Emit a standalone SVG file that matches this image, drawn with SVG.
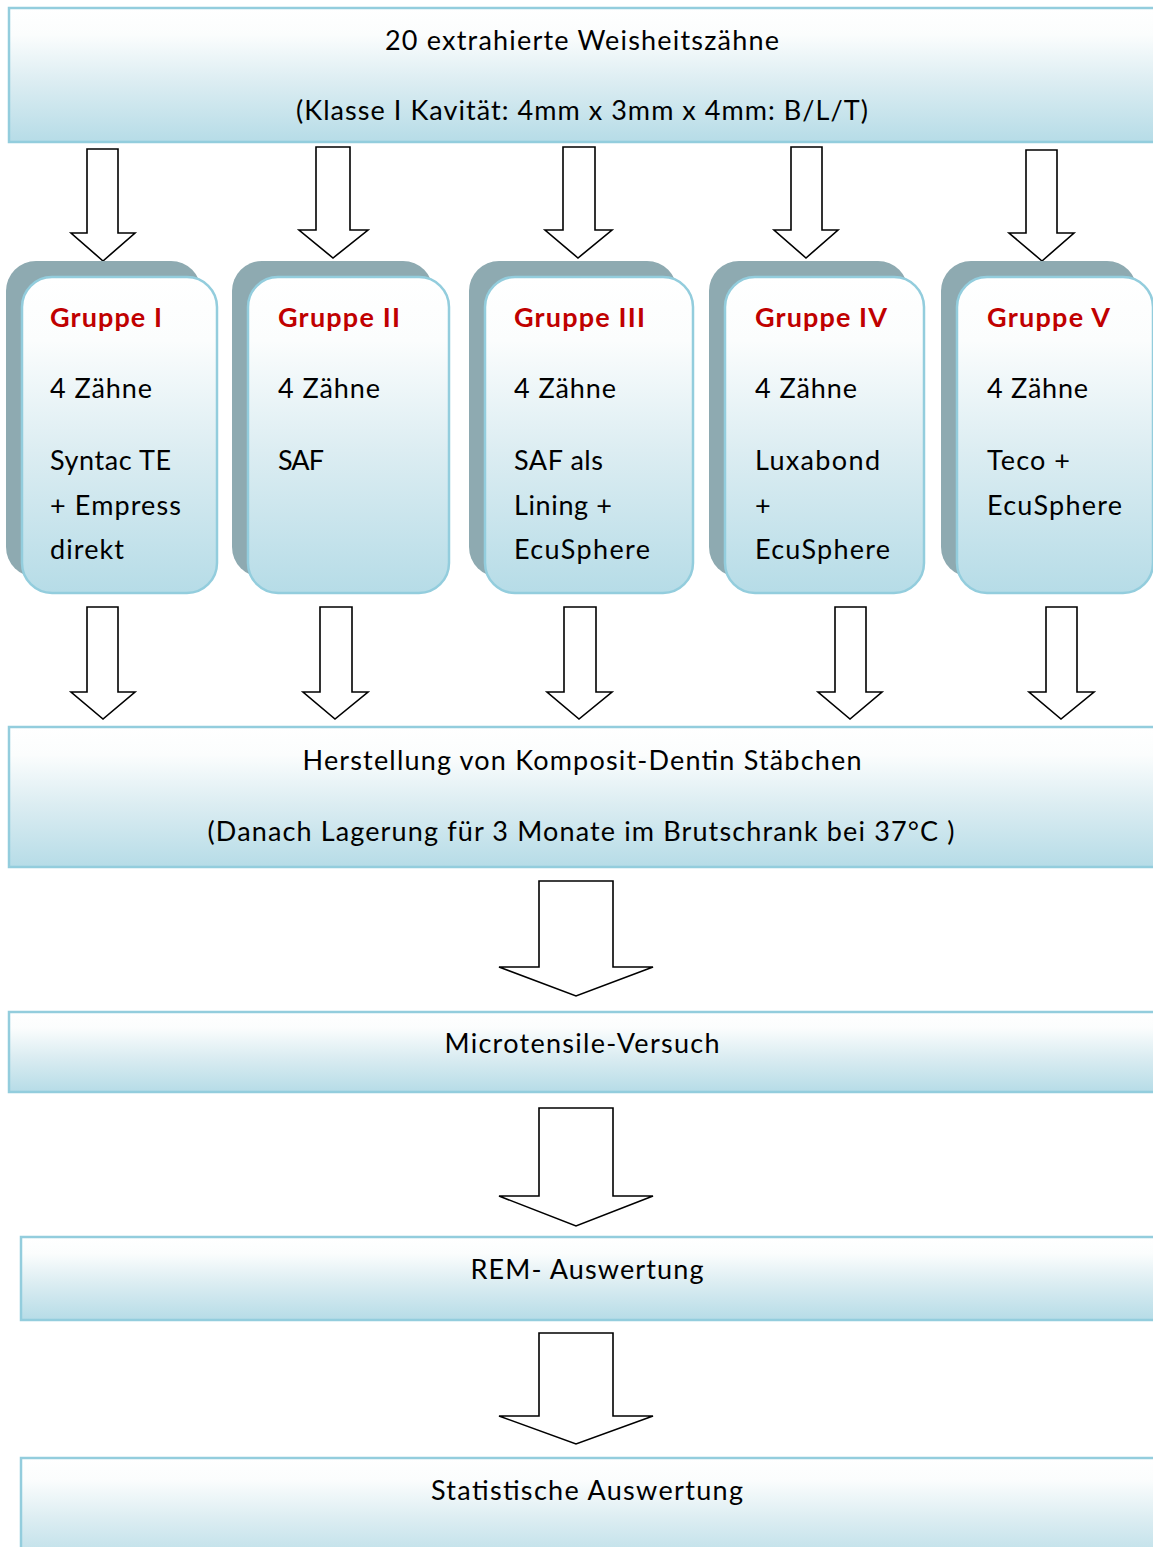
<svg xmlns="http://www.w3.org/2000/svg" width="1153" height="1547" viewBox="0 0 1153 1547">
<defs>
<linearGradient id="g" x1="0" y1="0" x2="0" y2="1">
<stop offset="0" stop-color="#ffffff"/>
<stop offset="0.2" stop-color="#fbfdfd"/>
<stop offset="0.55" stop-color="#dcedf2"/>
<stop offset="1" stop-color="#b6dce7"/>
</linearGradient>
<style>
.box{fill:url(#g);stroke:#93cddd;stroke-width:2.5}
.sh{fill:#8eaab1}
.t{font-family:Lato,"Open Sans","Liberation Sans",sans-serif;font-size:27px;fill:#000}
.c{text-anchor:middle}
.h{font-weight:bold;fill:#c00000}
.ar{fill:#fff;stroke:#000;stroke-width:1.6;stroke-linejoin:miter}
</style>
</defs>
<rect width="1153" height="1547" fill="#fff"/>

<g id="connectors">
<polygon class="ar" points="87,149 118,149 118,233 135,233 103,261 71,233 87,233"/>
<polygon class="ar" points="316,147 350,147 350,230 368,230 333,258 299,230 316,230"/>
<polygon class="ar" points="563,147 595,147 595,230 612,230 578,258 545,230 563,230"/>
<polygon class="ar" points="791,147 822,147 822,230 838,230 806,258 774,230 791,230"/>
<polygon class="ar" points="1026,150 1057,150 1057,233 1074,233 1042,261 1009,233 1026,233"/>

<polygon class="ar" points="87,607 118,607 118,692 135,692 103,719 71,692 87,692"/>
<polygon class="ar" points="320,607 352,607 352,692 368,692 335,719 303,692 320,692"/>
<polygon class="ar" points="564,607 596,607 596,692 612,692 579,719 547,692 564,692"/>
<polygon class="ar" points="835,607 866,607 866,692 882,692 850,719 818,692 835,692"/>
<polygon class="ar" points="1046,607 1077,607 1077,692 1094,692 1061,719 1029,692 1046,692"/>

<polygon class="ar" points="539,881 613,881 613,967 653,967 576,996 499,967 539,967"/>
<polygon class="ar" points="539,1108 613,1108 613,1196 653,1196 576,1226 499,1196 539,1196"/>
<polygon class="ar" points="539,1333 613,1333 613,1416 653,1416 576,1444 499,1416 539,1416"/>
</g>

<g id="n-top">
<rect class="box" x="9" y="8" width="1160" height="134"/>
<text class="t c" x="582" y="50" textLength="394">20 extrahierte Weisheitszähne</text>
<text class="t c" x="582" y="120" textLength="572">(Klasse I Kavität: 4mm x 3mm x 4mm: B/L/T)</text>
</g>

<g id="n-g1">
<rect class="sh" x="6" y="261" width="195" height="316" rx="30"/>
<rect class="box" x="22" y="277" width="195" height="316" rx="30"/>
<text class="t h" x="50" y="327" textLength="112">Gruppe I</text>
<text class="t" x="50" y="398" textLength="102">4 Zähne</text>
<text class="t" x="50" y="470" textLength="121">Syntac TE</text>
<text class="t" x="50" y="515" textLength="131">+ Empress</text>
<text class="t" x="50" y="559" textLength="74">direkt</text>
</g>

<g id="n-g2">
<rect class="sh" x="232" y="261" width="201" height="316" rx="30"/>
<rect class="box" x="248" y="277" width="201" height="316" rx="30"/>
<text class="t h" x="278" y="327" textLength="122">Gruppe II</text>
<text class="t" x="278" y="398" textLength="102">4 Zähne</text>
<text class="t" x="278" y="470" textLength="46">SAF</text>
</g>

<g id="n-g3">
<rect class="sh" x="469" y="261" width="208" height="316" rx="30"/>
<rect class="box" x="485" y="277" width="208" height="316" rx="30"/>
<text class="t h" x="514" y="327" textLength="131">Gruppe III</text>
<text class="t" x="514" y="398" textLength="102">4 Zähne</text>
<text class="t" x="514" y="470" textLength="89">SAF als</text>
<text class="t" x="514" y="515" textLength="98">Lining +</text>
<text class="t" x="514" y="559" textLength="136">EcuSphere</text>
</g>

<g id="n-g4">
<rect class="sh" x="709" y="261" width="199" height="316" rx="30"/>
<rect class="box" x="725" y="277" width="199" height="316" rx="30"/>
<text class="t h" x="755" y="327" textLength="132">Gruppe IV</text>
<text class="t" x="755" y="398" textLength="102">4 Zähne</text>
<text class="t" x="755" y="470" textLength="125">Luxabond</text>
<text class="t" x="755" y="515">+</text>
<text class="t" x="755" y="559" textLength="135">EcuSphere</text>
</g>

<g id="n-g5">
<rect class="sh" x="941" y="261" width="196" height="316" rx="30"/>
<rect class="box" x="957" y="277" width="196" height="316" rx="30"/>
<text class="t h" x="987" y="327" textLength="123">Gruppe V</text>
<text class="t" x="987" y="398" textLength="101">4 Zähne</text>
<text class="t" x="987" y="470" textLength="83">Teco +</text>
<text class="t" x="987" y="515" textLength="135">EcuSphere</text>
</g>

<g id="n-herstellung">
<rect class="box" x="9" y="727" width="1160" height="140"/>
<text class="t c" x="582" y="770" textLength="559">Herstellung von Komposit-Dentin Stäbchen</text>
<text class="t c" x="581" y="841" textLength="747">(Danach Lagerung für 3 Monate im Brutschrank bei 37°C )</text>
</g>

<g id="n-micro">
<rect class="box" x="9" y="1012" width="1160" height="80"/>
<text class="t c" x="582" y="1053" textLength="275">Microtensile-Versuch</text>
</g>

<g id="n-rem">
<rect class="box" x="21" y="1237" width="1150" height="83"/>
<text class="t c" x="587" y="1279" textLength="233">REM- Auswertung</text>
</g>

<g id="n-stat">
<rect class="box" x="21" y="1458" width="1150" height="110"/>
<text class="t c" x="587" y="1500" textLength="312">Statistische Auswertung</text>
</g>
</svg>
